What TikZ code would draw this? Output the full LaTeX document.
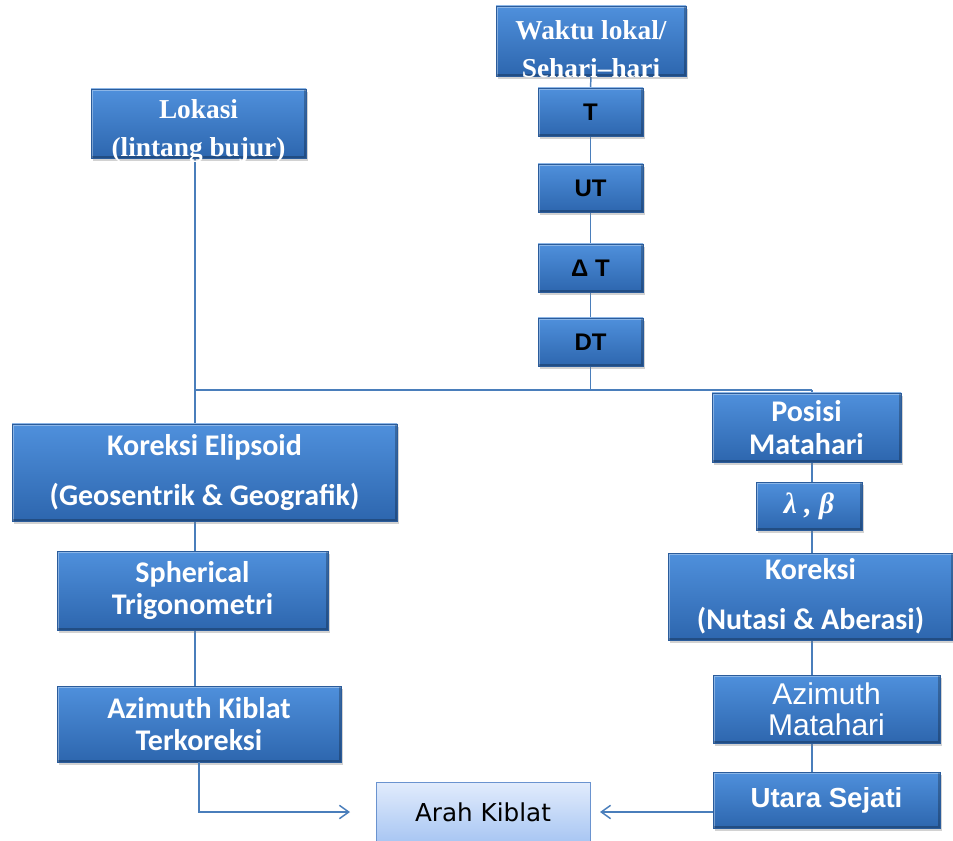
\documentclass[tikz,border=0pt]{standalone}
\usepackage{fontspec}
\usepackage{tikz}
\usetikzlibrary{calc}
\usetikzlibrary{positioning}
\usetikzlibrary{shadows}
\usetikzlibrary{arrows.meta}
\usetikzlibrary{backgrounds}
\newfontfamily\serifkotak{Liberation Serif}
\newfontfamily\calibri{Carlito}
\newfontfamily\arial{Liberation Sans}
\newfontfamily\dejavu{DejaVu Sans}
\definecolor{birumuda}{HTML}{4F90DC}
\definecolor{birutua}{HTML}{2D66AE}
\definecolor{birutepi}{HTML}{2B5C9B}
\definecolor{garis}{HTML}{4A7EBB}
\definecolor{langit}{HTML}{E2ECFC}
\definecolor{langitbawah}{HTML}{A8C6F3}
\definecolor{langittepi}{HTML}{6A93CF}
\newcommand{\kotak}[7]{
    \pgfmathsetmacro{\kw}{(#4 - #2)*0.75}
    \pgfmathsetmacro{\kh}{(#5 - #3)*0.75}
    \node[#6, minimum width=\kw pt, minimum height=\kh pt] (#1) at ({(#2 + #4)/2}, {(#3 + #5)/2}) {#7};
}

\begin{document}
\begin{tikzpicture}[x=0.75pt, y=-0.75pt,
    kotakbiru/.style={draw=birutepi, line width=0.5pt, top color=birumuda, bottom color=birutua,
        inner sep=0pt, outer sep=0pt, align=center, text=white,
        drop shadow={opacity=0.35, shadow xshift=1.5pt, shadow yshift=-2pt},
        path picture={
            \draw[white, opacity=0.35, line width=3pt] (path picture bounding box.south west) |- (path picture bounding box.north east);
            \draw[black, opacity=0.25, line width=3pt] (path picture bounding box.south west) -| (path picture bounding box.north east);
        }},
    serifteks/.style={align=center, text=white, yshift=-6pt, font=\serifkotak\bfseries\fontsize{20.5}{28.5}\selectfont},
    hitam/.style={kotakbiru, text=black, font=\arial\bfseries\fontsize{18}{20}\selectfont},
    tebal/.style={kotakbiru, font=\calibri\bfseries\fontsize{22.5}{24.5}\selectfont},
    tebaljarang/.style={kotakbiru, font=\calibri\bfseries\fontsize{22.5}{37.5}\selectfont},
    biasa/.style={kotakbiru, font=\arial\fontsize{22.5}{23}\selectfont},
    arialtebal/.style={kotakbiru, font=\arial\bfseries\fontsize{20.7}{22}\selectfont},
    kotakmuda/.style={draw=langittepi, line width=0.5pt, top color=langit, bottom color=langitbawah,
        inner sep=0pt, outer sep=0pt, align=center, text=black, font=\dejavu\fontsize{18.5}{20}\selectfont},
    garishubung/.style={draw=garis, line width=1.1pt},
    panah/.style={garishubung, -{Straight Barb[length=7pt, width=10pt]}}]
    \useasboundingbox (0,0) rectangle (953,841);

    % kolom tengah: waktu
    \kotak{waktu}{496}{6}{686}{76}{kotakbiru, label={[serifteks]center:{Waktu lokal/\\Sehari–hari}}}{}
    \kotak{t}{538}{88}{643}{136}{hitam}{T}
    \kotak{ut}{538}{164}{643}{212}{hitam}{UT}
    \kotak{deltat}{538}{244}{643}{292}{hitam}{Δ T}
    \kotak{dt}{538}{318}{643}{366}{hitam}{DT}

    % kolom kiri: lokasi
    \kotak{lokasi}{91}{89}{306}{158}{kotakbiru, label={[serifteks]center:{Lokasi\\(lintang bujur)}}}{}
    \kotak{elipsoid}{12}{424}{397}{521}{tebaljarang}{Koreksi Elipsoid\\(Geosentrik \& Geografik)}
    \kotak{spherical}{57}{551}{328}{630}{tebal}{Spherical\\Trigonometri}
    \kotak{azkiblat}{57}{686}{341}{762}{tebal}{Azimuth Kiblat\\Terkoreksi}

    % kolom kanan: matahari
    \kotak{posisi}{712}{393}{901}{462}{tebal}{Posisi\\Matahari}
    \kotak{lambda}{756}{482}{862}{530}{kotakbiru, font=\serifkotak\bfseries\itshape\fontsize{22}{24}\selectfont}{λ , β}
    \kotak{nutasi}{668}{553}{953}{640}{tebaljarang}{Koreksi\\(Nutasi \& Aberasi)}
    \kotak{azmat}{713}{675}{940}{743}{biasa}{Azimuth\\Matahari}
    \kotak{utara}{713}{772}{940}{828}{arialtebal}{Utara Sejati}

    \kotak{arah}{376}{782}{590}{842}{kotakmuda}{Arah Kiblat}

    \coordinate (kiri) at (195,390);
    \coordinate (kanan) at (812,390);

    \begin{scope}[on background layer]
        \fill[white] (0,0) rectangle (953,841);
        \foreach \a/\b in {waktu/t, t/ut, ut/deltat, deltat/dt}
            \draw[garishubung] (\a.south) -- (\b.north);
        \draw[garishubung] (dt.south) -- (dt.south |- kiri);
        \draw[garishubung, line width=1.8pt] (kiri) -- (kanan);
        \draw[garishubung] (lokasi.south -| kiri) -- (elipsoid.north -| kiri);
        \foreach \a/\b in {elipsoid/spherical, spherical/azkiblat}
            \draw[garishubung] (\a.south -| kiri) -- (\b.north -| kiri);
        \draw[garishubung] (kanan) -- (posisi.north -| kanan);
        \foreach \a/\b in {posisi/lambda, lambda/nutasi, nutasi/azmat, azmat/utara}
            \draw[garishubung] (\a.south -| kanan) -- (\b.north -| kanan);
    \end{scope}

    \draw[panah, shorten >=19.5pt] (azkiblat.south) |- (arah.west);
    \draw[panah, shorten >=7.5pt] (arah.east -| utara.west) -- (arah.east);
\end{tikzpicture}
\end{document}
